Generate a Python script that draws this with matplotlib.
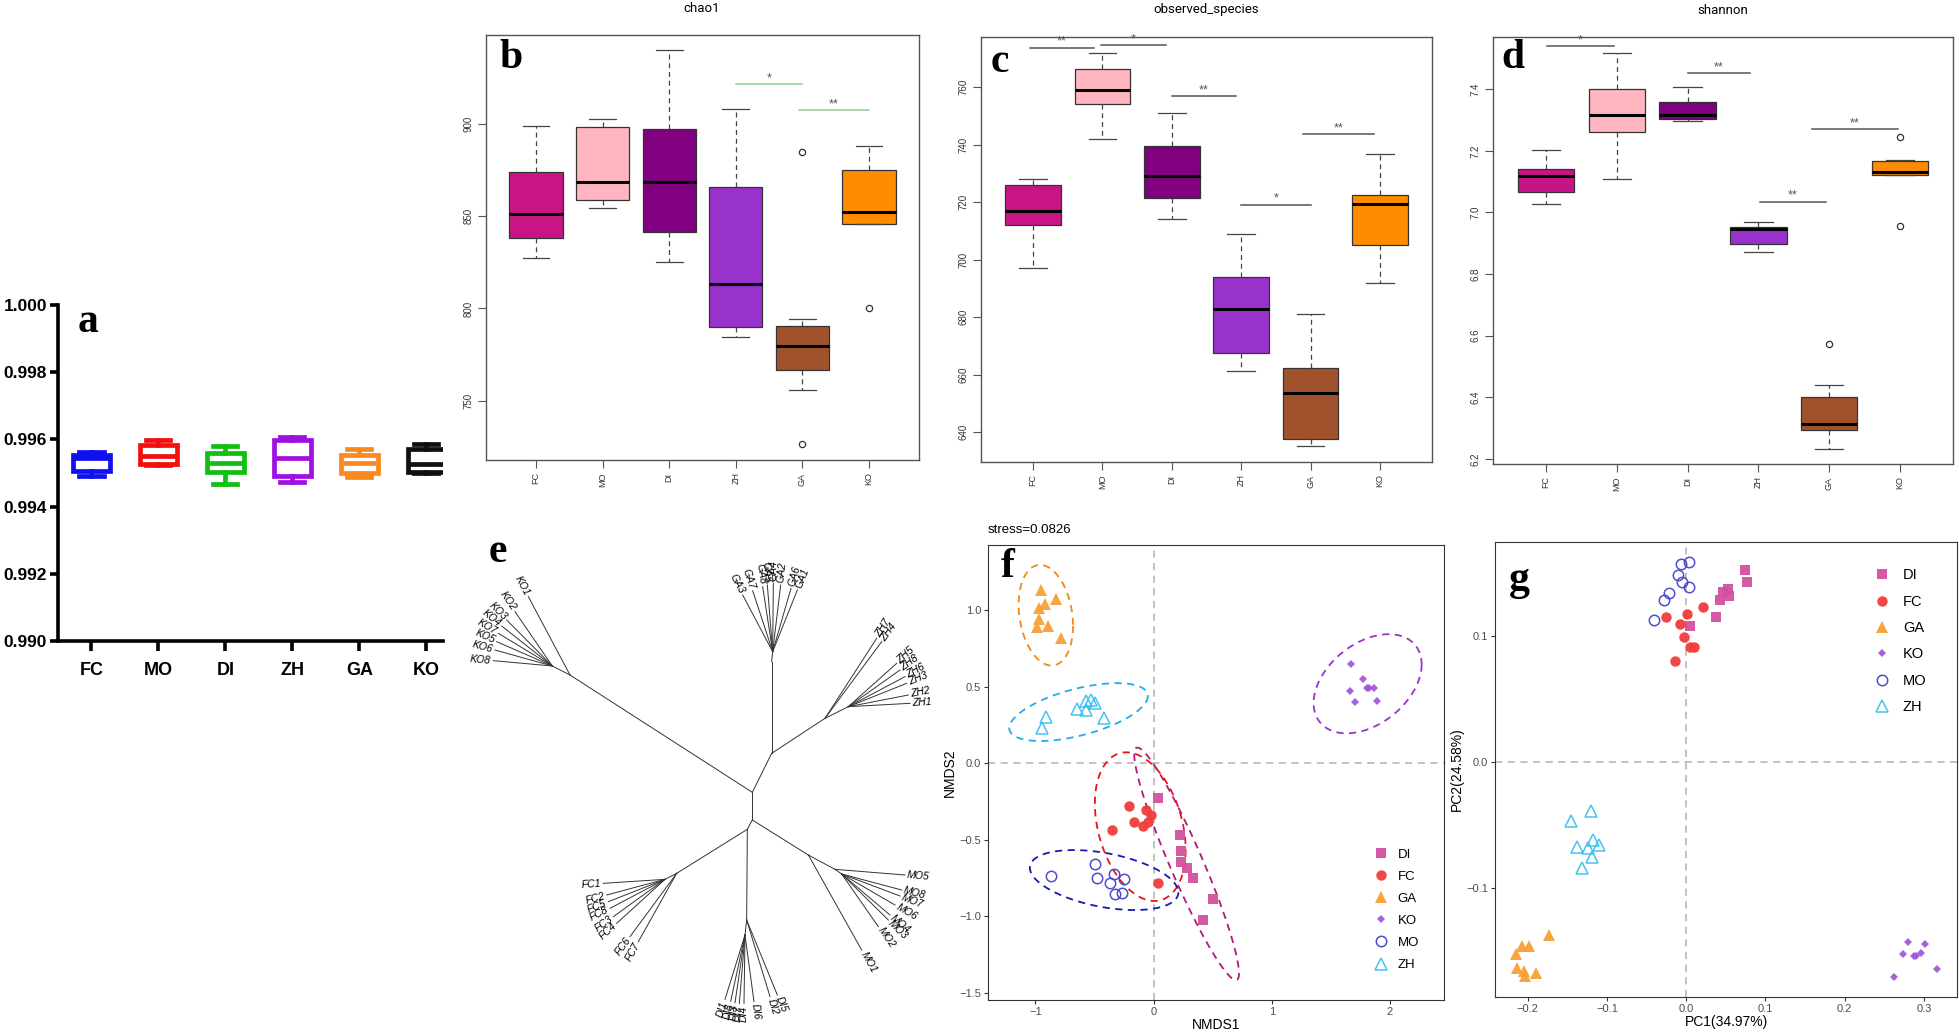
import numpy as np
import matplotlib
matplotlib.use('Agg')
import matplotlib.pyplot as plt

plt.rcParams['font.family'] = ['Liberation Sans', 'DejaVu Sans']

groups = ['FC', 'MO', 'DI', 'ZH', 'GA', 'KO']

# a - good's coverage
cov_lo = [0.99490, 0.99524, 0.99466, 0.99472, 0.99488, 0.99500]
cov_q1 = [0.99505, 0.99528, 0.99503, 0.99490, 0.99500, 0.99503]
cov_med = [0.99545, 0.99551, 0.99530, 0.99545, 0.99530, 0.99526]
cov_q3 = [0.99555, 0.99583, 0.99560, 0.99598, 0.99555, 0.99570]
cov_hi = [0.99563, 0.99598, 0.99580, 0.99606, 0.99570, 0.99586]
cov_colors = ['#1010F0', '#F01010', '#10C010', '#A010E0', '#F98A1E', '#101010']

# b - chao1
chao_lo = [827.4, 854.6, 825.2, 784.4, 756.0, 845.8]
chao_q1 = [838.0, 858.8, 841.6, 790.1, 766.5, 845.8]
chao_med = [851.2, 868.7, 868.2, 813.3, 779.5, 852.1]
chao_q3 = [874.0, 898.2, 897.1, 866.0, 790.3, 874.9]
chao_hi = [898.6, 902.7, 939.8, 908.1, 794.5, 887.7]
chao_out = [[], [], [], [], [884.8, 726.7], [800.1]]
chao_sig = [(4.0, 5.0, 921.5, '*'), (4.95, 6.0, 907.2, '**')]

# c - observed species
obs_lo = [697.0, 742.0, 714.0, 661.1, 635.1, 691.8]
obs_q1 = [711.9, 754.0, 721.5, 667.6, 637.6, 704.9]
obs_med = [716.9, 758.8, 728.9, 682.9, 653.5, 719.4]
obs_q3 = [726.0, 766.4, 739.4, 693.9, 662.4, 722.4]
obs_hi = [727.9, 771.9, 751.0, 709.0, 681.0, 736.8]
obs_out = [[], [], [], [], [], []]
obs_sig = [(0.95, 1.88, 773.6, '**'), (1.98, 2.92, 774.6, '*'), (3.0, 3.93, 756.9, '**'),
           (4.0, 5.0, 719.1, '*'), (4.89, 5.92, 743.5, '**')]

# d - shannon
sh_lo = [7.028, 7.108, 7.296, 6.871, 6.233, 7.122]
sh_q1 = [7.068, 7.261, 7.304, 6.898, 6.294, 7.122]
sh_med = [7.118, 7.318, 7.317, 6.947, 6.312, 7.132]
sh_q3 = [7.142, 7.402, 7.358, 6.952, 6.400, 7.168]
sh_hi = [7.202, 7.518, 7.409, 6.968, 6.441, 7.172]
sh_out = [[], [], [], [], [6.574], [7.244, 6.955]]
sh_sig = [(1.01, 1.96, 7.540, '*'), (3.0, 3.88, 7.453, '**'), (4.02, 4.96, 7.035, '**'),
          (4.76, 5.97, 7.271, '**')]

box_colors = ['#C71585', '#FFB6C1', '#800080', '#9932CC', '#A0522D', '#FF8C00']

# e - unrooted tree (layout units, y down)
node_name = ['n0', 'n1', 'n2', 'n3', 'ko', 'ko_s', 'ga', 'ga_s', 'zh', 'zh_s',
             'mo', 'mo_s', 'mo_s2', 'fc', 'fc_s', 'di', 'di_s']
node_x = [877, 877, 935, 862, 330, 277, 935, 938, 1095, 1165, 1045, 1125, 1145, 650, 615, 860, 855]
node_y = [757, 840, 640, 868, 405, 378, 365, 335, 535, 500, 945, 988, 1002, 1000, 1018, 1140, 1185]
node_parent = [None, 'n0', 'n0', 'n1', 'n0', 'ko', 'n2', 'ga', 'n2', 'zh',
               'n1', 'mo', 'mo_s', 'n3', 'fc', 'n3', 'di']

leaf_name = ['KO1', 'KO2', 'KO3', 'KO4', 'KO7', 'KO5', 'KO6', 'KO8',
             'GA3', 'GA7', 'GA8', 'GA5', 'GA4', 'GA2', 'GA6', 'GA1',
             'ZH7', 'ZH4', 'ZH5', 'ZH8', 'ZH6', 'ZH3', 'ZH2', 'ZH1',
             'MO5', 'MO8', 'MO7', 'MO6', 'MO4', 'MO3', 'MO2', 'MO1',
             'FC1', 'FC2', 'FC5', 'FC8', 'FC3', 'FC4', 'FC6', 'FC7',
             'DI1', 'DI8', 'DI3', 'DI7', 'DI4', 'DI6', 'DI2', 'DI5']
leaf_x = [205, 165, 140, 125, 115, 110, 105, 100,
          848, 878, 908, 922, 940, 962, 993, 1012,
          1250, 1265, 1310, 1320, 1335, 1340, 1345, 1350,
          1335, 1325, 1320, 1305, 1290, 1285, 1255, 1205,
          430, 440, 445, 450, 460, 470, 510, 535,
          795, 812, 825, 838, 852, 882, 930, 952]
leaf_y = [170, 215, 240, 258, 280, 305, 330, 362,
          165, 152, 140, 135, 130, 135, 145, 150,
          295, 305, 370, 390, 410, 430, 465, 490,
          1005, 1050, 1068, 1095, 1125, 1140, 1160, 1230,
          1030, 1065, 1085, 1105, 1130, 1150, 1190, 1205,
          1378, 1384, 1388, 1390, 1390, 1385, 1370, 1365]
leaf_parent = ['ko'] + ['ko_s'] * 7 + ['ga_s'] * 8 + ['zh', 'zh'] + ['zh_s'] * 6 + \
              ['mo_s'] + ['mo_s2'] * 6 + ['mo'] + ['fc_s'] * 6 + ['fc', 'fc'] + \
              ['di_s'] * 6 + ['di', 'di']

# f - NMDS
pt_group = ['DI'] * 8 + ['FC'] * 8 + ['GA'] * 8 + ['KO'] * 8 + ['MO'] * 8 + ['ZH'] * 8
nmds1 = [0.034, 0.224, 0.230, 0.230, 0.280, 0.336, 0.505, 0.415,
         -0.210, -0.062, -0.168, -0.090, -0.050, -0.353, 0.039, -0.022,
         -0.953, -0.827, -0.917, -0.967, -0.967, -0.987, -0.892, -0.785,
         1.674, 1.775, 1.660, 1.808, 1.864, 1.705, 1.892, 1.820,
         -0.869, -0.499, -0.482, -0.370, -0.331, -0.252, -0.322, -0.266,
         -0.906, -0.945, -0.645, -0.575, -0.533, -0.491, -0.575, -0.421]
nmds2 = [-0.229, -0.469, -0.571, -0.643, -0.683, -0.752, -0.890, -1.025,
         -0.277, -0.305, -0.382, -0.408, -0.382, -0.436, -0.781, -0.338,
         1.134, 1.075, 1.040, 1.014, 0.942, 0.890, 0.898, 0.818,
         0.648, 0.549, 0.475, 0.491, 0.491, 0.403, 0.408, 0.495,
         -0.738, -0.655, -0.749, -0.781, -0.726, -0.757, -0.851, -0.847,
         0.305, 0.233, 0.353, 0.410, 0.414, 0.392, 0.349, 0.299]
ell_group = ['GA', 'ZH', 'KO', 'FC', 'DI', 'MO']
ell_cx = [-0.911, -0.634, 1.811, -0.112, 0.280, -0.418]
ell_cy = [0.968, 0.335, 0.520, -0.414, -0.657, -0.763]
ell_rx = [0.230, 0.586, 0.457, 0.384, 0.443, 0.628]
ell_ry = [0.329, 0.189, 0.324, 0.486, 0.760, 0.196]
ell_rho = [-0.21, 0.555, 0.39, -0.31, -0.94, -0.41]

# g - PCoA
pc1 = [0.0737, 0.0774, 0.0522, 0.0463, 0.0539, 0.0429, 0.0379, 0.0051,
       0.0219, -0.0257, 0.0008, -0.0076, -0.0021, 0.0051, 0.0093, -0.0135,
       -0.1734, -0.2075, -0.1978, -0.2146, -0.2130, -0.2041, -0.1894, -0.2033,
       0.2799, 0.3018, 0.2731, 0.2879, 0.2967, 0.2900, 0.3165, 0.2626,
       0.0042, -0.0059, -0.0101, -0.0051, 0.0042, -0.0219, -0.0278, -0.0404,
       -0.1199, -0.1452, -0.1178, -0.1103, -0.1372, -0.1233, -0.1187, -0.1313]
pc2 = [0.1524, 0.1429, 0.1373, 0.1344, 0.1317, 0.1280, 0.1146, 0.1079,
       0.1228, 0.1148, 0.1169, 0.1093, 0.0987, 0.0915, 0.0915, 0.0804,
       -0.1368, -0.1458, -0.1458, -0.1519, -0.1632, -0.1656, -0.1669, -0.1693,
       -0.1423, -0.1439, -0.1524, -0.1534, -0.1513, -0.1540, -0.1638, -0.1704,
       0.1587, 0.1569, 0.1479, 0.1423, 0.1386, 0.1341, 0.1280, 0.1127,
       -0.0386, -0.0468, -0.0619, -0.0659, -0.0677, -0.0683, -0.0751, -0.0839]

leg_groups = ['DI', 'FC', 'GA', 'KO', 'MO', 'ZH']
pt_color = {'DI': '#D4509E', 'FC': '#F23B3B', 'GA': '#F8A035', 'KO': '#A458D6',
            'MO': '#4545C8', 'ZH': '#3CC0EE'}
pt_marker = {'DI': 's', 'FC': 'o', 'GA': '^', 'KO': 'D', 'MO': 'o', 'ZH': '^'}
pt_size = {'DI': 7, 'FC': 7.5, 'GA': 8.5, 'KO': 4.5, 'MO': 7.5, 'ZH': 8.5}
pt_open = {'DI': False, 'FC': False, 'GA': False, 'KO': False, 'MO': True, 'ZH': True}
ell_color = {'GA': '#F08A1A', 'ZH': '#1EAEEE', 'KO': '#9A32D0', 'FC': '#E8151B',
             'DI': '#B01A7A', 'MO': '#1A1AAA'}

W, H = 1959, 1032
def rect(l, t, r, b):
    return [l / W, 1 - b / H, (r - l) / W, (b - t) / H]

fig = plt.figure(figsize=(W / 100, H / 100), dpi=100)

# ---------------- panel a
ax = fig.add_axes(rect(58, 305, 443, 641))
stats = [dict(whislo=cov_lo[i], q1=cov_q1[i], med=cov_med[i], q3=cov_q3[i],
              whishi=cov_hi[i], fliers=[]) for i in range(6)]
bp = ax.bxp(stats, positions=range(1, 7), widths=0.56, capwidths=0.36, patch_artist=True,
            showfliers=False)
for i in range(6):
    c = cov_colors[i]
    bp['boxes'][i].set(facecolor='white', edgecolor=c, linewidth=3.4)
    bp['medians'][i].set(color=c, linewidth=3.4)
    for k in (2 * i, 2 * i + 1):
        bp['whiskers'][k].set(color=c, linewidth=3.4)
        bp['caps'][k].set(color=c, linewidth=3.4)
ax.set_xlim(0.5, 6.25)
ax.set_ylim(0.990, 1.000)
ax.set_yticks(np.arange(0.990, 1.0001, 0.002))
ax.set_yticklabels(['%.3f' % v for v in np.arange(0.990, 1.0001, 0.002)])
ax.set_xticks(range(1, 7))
ax.set_xticklabels(groups)
for s in ('top', 'right'):
    ax.spines[s].set_visible(False)
for s in ('left', 'bottom'):
    ax.spines[s].set_linewidth(2.6)
ax.tick_params(axis='y', width=2.6, length=6, labelsize=12.5, pad=2)
ax.tick_params(axis='x', width=2.6, length=7, labelsize=13, pad=8)
for t in ax.get_xticklabels() + ax.get_yticklabels():
    t.set_fontweight('bold')

# ---------------- panels b, c, d
def alpha_panel(pos, lo, q1, med, q3, hi, out, ylim, yticks, ylabs, sig, sigcol, title, tpos):
    ax = fig.add_axes(rect(*pos))
    stats = [dict(whislo=lo[i], q1=q1[i], med=med[i], q3=q3[i], whishi=hi[i],
                  fliers=out[i]) for i in range(6)]
    bp = ax.bxp(stats, positions=range(1, 7), widths=0.8, capwidths=0.4, patch_artist=True,
                whiskerprops=dict(color='#444444', linestyle=(0, (4, 3)), linewidth=0.9),
                capprops=dict(color='#444444', linewidth=0.9),
                medianprops=dict(color='black', linewidth=2.2),
                flierprops=dict(marker='o', markerfacecolor='none', markeredgecolor='#333333',
                                markersize=4.5, markeredgewidth=0.9))
    for i in range(6):
        bp['boxes'][i].set(facecolor=box_colors[i], edgecolor='#333333', linewidth=0.9)
    for x0, x1, y, s in sig:
        ax.plot([x0, x1], [y, y], color=sigcol, lw=1.1)
        ax.text((x0 + x1) / 2, y, s, ha='center', va='bottom', fontsize=9, color='#555555')
    ax.set_xlim(0.25, 6.75)
    ax.set_ylim(*ylim)
    ax.set_yticks(yticks)
    ax.set_yticklabels(ylabs, rotation=90, va='center', fontsize=7, color='#333333')
    ax.set_xticks(range(1, 7))
    ax.set_xticklabels(groups, rotation=90, fontsize=6.5, color='#333333')
    ax.tick_params(length=6, width=0.8, color='#555555', pad=3)
    for s in ax.spines.values():
        s.set_color('#555555')
        s.set_linewidth(1.0)
    fig.text(tpos[0] / W, 1 - tpos[1] / H, title, ha='center', va='center', fontsize=9.5,
             family=['Roboto', 'DejaVu Sans'])
    return ax

alpha_panel((486, 35, 919, 460), chao_lo, chao_q1, chao_med, chao_q3, chao_hi, chao_out,
            (718, 948), [750, 800, 850, 900], ['750', '800', '850', '900'], chao_sig,
            '#8FD08F', 'chao1', (702, 8))
alpha_panel((981, 37, 1432, 462), obs_lo, obs_q1, obs_med, obs_q3, obs_hi, obs_out,
            (629.6, 777.4), list(range(640, 761, 20)), [str(v) for v in range(640, 761, 20)],
            obs_sig, '#555555', 'observed_species', (1206, 9))
alpha_panel((1493, 37, 1953, 464), sh_lo, sh_q1, sh_med, sh_q3, sh_hi, sh_out,
            (6.183, 7.57), [6.2, 6.4, 6.6, 6.8, 7.0, 7.2, 7.4],
            ['6.2', '6.4', '6.6', '6.8', '7.0', '7.2', '7.4'],
            sh_sig, '#555555', 'shannon', (1723, 10))

# ---------------- panel e: tree
ax = fig.add_axes(rect(460, 540, 940, 1030))
ax.set_xlim(0, 1440)
ax.set_ylim(1470, 0)
ax.axis('off')
pos = {n: (x, y) for n, x, y in zip(node_name, node_x, node_y)}
for n, p in zip(node_name, node_parent):
    if p is not None:
        ax.plot([pos[p][0], pos[n][0]], [pos[p][1], pos[n][1]], color='#333333', lw=0.7)
for n, x, y, p in zip(leaf_name, leaf_x, leaf_y, leaf_parent):
    px, py = pos[p]
    ax.plot([px, x], [py, y], color='#333333', lw=0.7)
    dx, dy = x - px, y - py
    L = np.hypot(dx, dy)
    ang = np.degrees(np.arctan2(-dy, dx))
    lx, ly = x + 7 * dx / L, y + 7 * dy / L
    if -90 < ang <= 90:
        ax.text(lx, ly, n, rotation=ang, ha='left', va='center', rotation_mode='anchor',
                fontsize=7.5, style='italic')
    else:
        ax.text(lx, ly, n, rotation=ang - 180, ha='right', va='center', rotation_mode='anchor',
                fontsize=7.5, style='italic')

# ---------------- panel f: NMDS
ax = fig.add_axes(rect(988, 545, 1444, 1000))
ax.axhline(0, color='#BDBDBD', ls=(0, (4, 3)), lw=1.3, zorder=0)
ax.axvline(0, color='#BDBDBD', ls=(0, (4, 3)), lw=1.3, zorder=0)
t = np.linspace(0, 2 * np.pi, 300)
for g, cx, cy, rx, ry, rho in zip(ell_group, ell_cx, ell_cy, ell_rx, ell_ry, ell_rho):
    ax.plot(cx + rx * np.cos(t), cy + ry * np.cos(t + np.arccos(rho)), color=ell_color[g],
            ls=(0, (4, 3)), lw=1.3)
gr = np.array(pt_group)
x1 = np.array(nmds1)
y1 = np.array(nmds2)
for g in leg_groups:
    m = gr == g
    c = pt_color[g]
    ax.plot(x1[m], y1[m], ls='none', marker=pt_marker[g], ms=pt_size[g],
            mfc='none' if pt_open[g] else c, mec=c, mew=1.1 if pt_open[g] else 0,
            alpha=0.95, label=g)
ax.set_xlim(-1.40, 2.457)
ax.set_ylim(-1.547, 1.427)
ax.set_xticks([-1, 0, 1, 2])
ax.set_yticks([-1.5, -1.0, -0.5, 0.0, 0.5, 1.0])
ax.set_yticklabels(['\u22121.5', '\u22121.0', '\u22120.5', '0.0', '0.5', '1.0'])
ax.set_xticklabels(['\u22121', '0', '1', '2'])
ax.tick_params(labelsize=8, labelcolor='#4D4D4D', length=3, width=0.8, color='#333333', pad=2)
for s in ax.spines.values():
    s.set_color('#333333')
ax.set_xlabel('NMDS1', fontsize=10, labelpad=1)
ax.set_ylabel('NMDS2', fontsize=10, labelpad=2)
ax.legend(loc='upper left', bbox_to_anchor=(0.835, 0.345), frameon=False, fontsize=9.5,
          handlelength=1.0, handletextpad=0.8, labelspacing=0.75, borderaxespad=0)
fig.text(988 / W, 1 - 530 / H, 'stress=0.0826', ha='left', va='center', fontsize=9.5)

# ---------------- panel g: PCoA
ax = fig.add_axes(rect(1495, 542, 1957, 997))
ax.axhline(0, color='#BDBDBD', ls=(0, (4, 3)), lw=1.3, zorder=0)
ax.axvline(0, color='#BDBDBD', ls=(0, (4, 3)), lw=1.3, zorder=0)
x2 = np.array(pc1)
y2 = np.array(pc2)
for g in leg_groups:
    m = gr == g
    c = pt_color[g]
    ax.plot(x2[m], y2[m], ls='none', marker=pt_marker[g], ms=pt_size[g],
            mfc='none' if pt_open[g] else c, mec=c, mew=1.1 if pt_open[g] else 0,
            alpha=0.95, label=g)
ax.set_xlim(-0.2412, 0.3418)
ax.set_ylim(-0.1862, 0.1743)
ax.set_xticks([-0.2, -0.1, 0.0, 0.1, 0.2, 0.3])
ax.set_xticklabels(['\u22120.2', '\u22120.1', '0.0', '0.1', '0.2', '0.3'])
ax.set_yticks([-0.1, 0.0, 0.1])
ax.set_yticklabels(['\u22120.1', '0.0', '0.1'])
ax.tick_params(labelsize=8, labelcolor='#4D4D4D', length=3, width=0.8, color='#333333', pad=2)
for s in ax.spines.values():
    s.set_color('#333333')
ax.set_xlabel('PC1(34.97%)', fontsize=10, labelpad=1)
ax.set_ylabel('PC2(24.58%)', fontsize=10, labelpad=2)
ax.legend(loc='upper left', bbox_to_anchor=(0.81, 0.955), frameon=False, fontsize=10.5,
          handlelength=1.0, handletextpad=0.9, labelspacing=0.85, borderaxespad=0)

# panel letters
letters = ['a', 'b', 'c', 'd', 'e', 'f', 'g']
letter_x = [88, 511, 1000, 1513, 498, 1008, 1519]
letter_y = [322, 58, 62, 58, 552, 567, 580]
for s, x, y in zip(letters, letter_x, letter_y):
    fig.text(x / W, 1 - y / H, s, ha='center', va='center', fontsize=30, fontweight='bold',
             family=['Liberation Serif', 'DejaVu Serif'])

fig.savefig('out.png', dpi=100)
